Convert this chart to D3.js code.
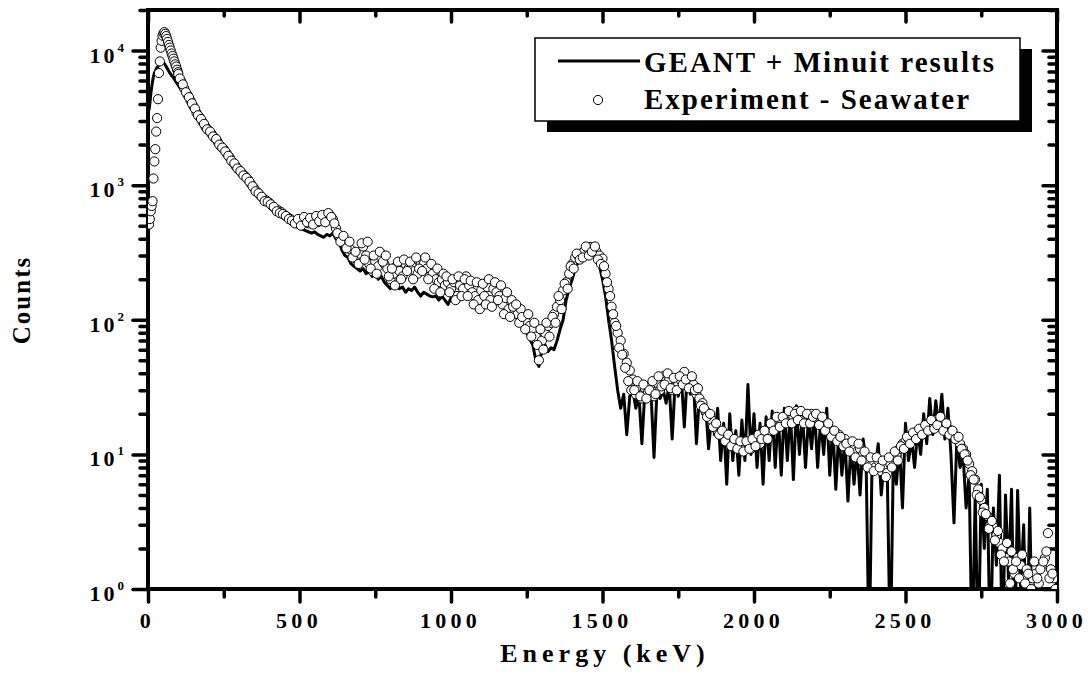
<!DOCTYPE html>
<html lang="en">
<head>
<meta charset="utf-8">
<title>GEANT + Minuit vs seawater spectrum</title>
<script src="https://cdn.jsdelivr.net/npm/d3@7"></script>
<style>
  body { margin: 0; background: #fff; }
  svg text { font-family: "Liberation Serif", "Times New Roman", serif; font-weight: bold; fill: #000; }
  .tick line { stroke: #000; stroke-width: 3.5; stroke-linecap: round; }
</style>
</head>
<body>
<div id="chart"></div>
<script>

// ------ data --------
// first channels (keV), finer spacing around the low energy peak
var lowEnergy = [3,6,9,12,15,18,21,24,27,30,33,36,39,42,45,48,51,54,57,60,63,66,69,72,75,78,81,84,87,90,93,96,99];
var expLow = [510,560,640,700,760,1120,1500,1850,2500,3150,4350,6800,8300,10500,11800,12900,13400,13700,13300,12800,
  12200,11600,11000,10500,10000,9500,9100,8700,8300,7900,7600,7200,6900];
var simLow = [3600,4000,4700,5300,5900,6400,6800,7000,7300,7500,7600,7800,7900,8000,8100,8200,8100,8000,7800,7600,
  7400,7200,7000,6800,6700,6500,6400,6300,6100,6000,5800,5700,5600];

// experiment - seawater, 100 .. 2990 keV every 10 keV
var expEnergy = d3.range(100, 3000, 10);
var expCounts = [
  6700,5900,5200,4700,4250,3850,3450,3200,2950,2700,
  2550,2400,2250,2100,1950,1850,1720,1600,1480,1380,
  1300,1230,1170,1100,1020,950,890,840,800,770,
  740,700,670,650,630,600,580,560,540,530,
  540,520,560,520,540,560,530,570,550,580,
  600,560,480,420,400,370,360,330,300,280,
  310,350,300,260,230,270,250,290,260,240,
  200,220,250,230,210,260,240,250,230,220,
  270,260,240,210,220,200,190,200,180,190,
  170,190,150,180,170,210,180,160,150,140,
  165,150,175,140,170,160,150,130,145,120,
  140,115,110,120,100,95,90,84,75,50,
  70,80,90,95,110,125,140,165,190,220,
  260,290,300,310,325,340,345,330,320,300,
  285,220,170,125,95,80,70,56,48,42,
  36,28,32,26,31,29,33,27,34,30,
  38,35,36,30,36,33,35,41,34,36,
  33,28,26,24,21,19,18,16,15,14.5,
  13.5,13,12.5,12,12,11,11.5,11,12,11,
  12.5,13,12,13.5,14,15,16,17,18,17,
  19,18,20,19,21,19,20,18,19,20,
  18,19,17,18,16,15,14,13.5,14,12.5,
  13,12,11.5,11,10.5,11,10,9.5,9,8.5,
  8,9,7.5,8,7.3,8.5,9.6,10,11,12,
  12.5,13,13.5,14,14.5,15,15.5,16,16.5,17,
  18,17,16.5,16,15.5,15,14,13,12,11,
  10,8.5,7.5,6.5,5.5,4.6,4,3.5,3,2.9,
  2.5,2.2,2,1.7,1.6,1.9,1.3,1.7,1.5,1.2,
  1.4,1.1,1.2,1.3,1.1,1.5,1.7,2.6,1.4,1.2
];
// in-between channels, 105 .. 2995 keV every 10 keV
var expEnergyB = d3.range(105, 3000, 10);
var expCountsB = [
  6200,5600,4900,4500,4050,3700,3300,3100,2850,2600,
  2500,2300,2200,2000,1900,1780,1650,1520,1450,1330,
  1270,1180,1130,1060,980,900,870,820,760,750,
  720,690,640,620,610,590,560,545,520,560,
  500,580,530,570,510,590,540,600,530,620,
  580,520,440,380,420,340,380,290,320,260,
  370,280,380,240,300,220,320,270,300,210,
  240,180,270,200,280,230,270,200,290,240,
  230,290,200,260,170,240,160,220,210,160,
  200,140,210,150,200,150,195,130,190,120,
  185,130,200,125,190,140,180,110,160,105,
  125,130,95,105,85,110,75,95,65,85,
  60,95,75,105,95,150,120,185,170,250,
  240,310,280,290,350,300,320,350,280,260,
  250,190,150,110,90,62,55,44,35,30,
  30,35,27,33,26,30,35,28,38,32,
  33,40,31,37,30,38,33,36,31,38,
  30,31,23,22,19,20,16,17,14,15,
  12.5,14,11.5,13,11,12.5,10.5,12.5,11,13,
  11.5,14,13,15,13,17,15,19,16,19,
  17,21,17,20,18,21,17,20,17,19,
  20,16.5,19,15,17,13.5,15,12.5,13.5,11.5,
  12,10.5,12.5,9.5,12,9,10.5,8,9.5,7.5,
  9.5,8,9,6.8,9.5,8,10.5,9,11.5,11,
  13.5,12,14.5,13,15.5,14,16.5,15,18,15.5,
  16.5,19,15,17,14,15,13,13.5,11,10,
  9,7,6.5,5,4.8,3.7,3.6,2.8,3.2,2.3,
  2.7,1.8,1.6,2.2,1.1,1.4,1.6,1.2,1.8,1.1,
  1.3,1.0,1.6,1.2,1.4,1.6,1.9,1.2,1.3,1.0
];

// GEANT + Minuit fit, 100 .. 2920 keV every 10 keV (0 = empty channel)
var simEnergy = d3.range(100, 2930, 10);
var simCounts = [
  5500,5100,4800,4500,4200,3800,3450,3150,2900,2650,
  2500,2350,2200,2050,1900,1800,1680,1560,1450,1350,
  1270,1200,1130,1060,990,920,860,800,760,720,
  690,660,630,600,580,560,540,520,500,490,
  480,470,460,450,440,450,430,420,410,430,
  420,440,400,380,330,300,290,260,250,240,
  230,240,220,230,210,220,200,210,190,180,
  170,190,180,170,175,160,170,165,175,160,
  150,160,155,150,148,150,140,150,140,130,
  145,140,150,145,155,160,150,145,140,130,
  135,140,150,140,145,140,150,130,120,115,
  110,110,100,95,85,80,72,65,50,45,
  60,65,58,62,60,70,85,100,140,170,
  200,240,270,300,330,350,370,340,310,250,
  200,150,100,70,45,30,22,28,14,27,
  30,22,28,12,30,25,29,9.5,31,26,
  30,24,33,13,35,27,38,16,40,28,
  36,12,28,20,24,11,19,14,22,9,
  17,6,20,9,15,7,18,9,33,10,
  20,8,17,6,19,9,21,8,20,7,
  22,9,21,6.5,23,10,20,8,19,11,
  21,8,18,10,22,7,16,5.5,15,7,
  13,4.5,12,6,11,5,13,9,0,10,
  8,12,5,9,7,0,10,6,12,4,
  17,9,13,8,15,10,20,12,26,14,
  25,16,28,13,22,10,3.1,14,8,10,
  4,7,0,5,0,6,2,5.5,0,4,
  1.5,7,0,5,1.2,5.5,0,5.4,1,3,
  0,4,0
];

var xTicks = [0,500,1000,1500,2000,2500,3000];
var xMinorTicks = [250,750,1250,1750,2250,2750];
var yTicks = [1,10,100,1000,10000];
var yTickExponents = ["0","1","2","3","4"];
var legendLabels = ["GEANT + Minuit results", "Experiment - Seawater"];
// -----------------------------

var width = 1088, height = 677;
var pLeft = 148, pRight = 1057, pTop = 10, pBottom = 589;

var x = d3.scaleLinear().domain([0, 3000]).range([pLeft, pRight]);
var y = d3.scaleLog().domain([1, 20000]).range([pBottom, pTop]);

var yMinor = [];
yTicks.forEach(function(t){
  for (var k = 2; k <= 9; k++) yMinor.push(t * k);
});

function pairs(es, cs){ return es.map(function(e,i){ return {e:e, c:cs[i]}; }); }
var expData = pairs(lowEnergy, expLow).concat(pairs(expEnergy, expCounts), pairs(expEnergyB, expCountsB));
var simData = pairs(lowEnergy, simLow).concat(pairs(simEnergy, simCounts));

var svg = d3.select("#chart").append("svg")
  .attr("width", width).attr("height", height);

svg.append("defs").append("clipPath").attr("id", "plotclip")
  .append("rect").attr("x", pLeft).attr("y", pTop)
  .attr("width", pRight - pLeft).attr("height", pBottom - pTop);

// axes
function minorAxis(axis, g){
  g.call(axis).select(".domain").remove();
  g.selectAll("text").remove();
}
var gBottom = svg.append("g").attr("transform", "translate(0," + pBottom + ")");
gBottom.call(d3.axisBottom(x).tickValues(xTicks).tickSize(13).tickSizeOuter(0)
  .tickPadding(10).tickFormat(d3.format("d")));
gBottom.select(".domain").remove();
gBottom.selectAll("text").attr("font-size", 22).attr("letter-spacing", 4.3).attr("dx", -1);
minorAxis(d3.axisBottom(x).tickValues(xMinorTicks).tickSize(8), svg.append("g").attr("transform", "translate(0," + pBottom + ")"));

minorAxis(d3.axisBottom(x).tickValues(xTicks).tickSize(12), svg.append("g").attr("transform", "translate(0," + pTop + ")"));
minorAxis(d3.axisBottom(x).tickValues(xMinorTicks).tickSize(6), svg.append("g").attr("transform", "translate(0," + pTop + ")"));

var gLeft = svg.append("g").attr("transform", "translate(" + pLeft + ",0)");
gLeft.call(d3.axisLeft(y).tickValues(yTicks).tickSize(15).tickSizeOuter(0).tickFormat(""));
gLeft.select(".domain").remove();
gLeft.selectAll(".tick text").remove();
minorAxis(d3.axisLeft(y).tickValues(yMinor).tickSize(8), svg.append("g").attr("transform", "translate(" + pLeft + ",0)"));

minorAxis(d3.axisLeft(y).tickValues(yTicks).tickSize(14), svg.append("g").attr("transform", "translate(" + pRight + ",0)"));
minorAxis(d3.axisLeft(y).tickValues(yMinor).tickSize(8), svg.append("g").attr("transform", "translate(" + pRight + ",0)"));

// y labels 10^n
var yLab = svg.append("g").selectAll("text").data(yTicks).enter().append("text")
  .attr("x", 124).attr("y", function(d){ return y(d) + 12; })
  .attr("text-anchor", "end").attr("font-size", 22);
yLab.append("tspan").attr("letter-spacing", 3).text("10");
yLab.append("tspan").attr("font-size", 13).attr("dy", -11)
  .text(function(d,i){ return yTickExponents[i]; });

// frame
svg.append("rect").attr("x", pLeft).attr("y", pTop)
  .attr("width", pRight - pLeft).attr("height", pBottom - pTop)
  .attr("fill", "none").attr("stroke", "#000").attr("stroke-width", 4);

// data
var plot = svg.append("g").attr("clip-path", "url(#plotclip)");
var line = d3.line()
  .x(function(d){ return x(d.e); })
  .y(function(d){ return y(Math.max(d.c, 0.3)); });
plot.append("path").datum(simData)
  .attr("d", line).attr("fill", "none")
  .attr("stroke", "#000").attr("stroke-width", 3).attr("stroke-linejoin", "round");

plot.selectAll("circle").data(expData).enter().append("circle")
  .attr("cx", function(d){ return x(d.e); })
  .attr("cy", function(d){ return y(d.c); })
  .attr("r", 4.6).attr("fill", "#fff").attr("stroke", "#000").attr("stroke-width", 1);

// axis titles
svg.append("text").attr("x", 605).attr("y", 662).attr("text-anchor", "middle")
  .attr("font-size", 26).attr("letter-spacing", 5).text("Energy (keV)");
svg.append("text").attr("transform", "translate(30,300) rotate(-90)")
  .attr("text-anchor", "middle").attr("font-size", 25).attr("letter-spacing", 2).text("Counts");

// legend
var lg = svg.append("g");
lg.append("rect").attr("x", 547).attr("y", 49).attr("width", 485).attr("height", 83).attr("fill", "#000");
lg.append("rect").attr("x", 535).attr("y", 38).attr("width", 485).attr("height", 83)
  .attr("fill", "#fff").attr("stroke", "#000").attr("stroke-width", 1.5);
lg.append("line").attr("x1", 558).attr("x2", 640).attr("y1", 61).attr("y2", 61)
  .attr("stroke", "#000").attr("stroke-width", 3);
lg.append("circle").attr("cx", 598).attr("cy", 100).attr("r", 4.6)
  .attr("fill", "#fff").attr("stroke", "#000").attr("stroke-width", 1);
lg.selectAll("text.lab").data(legendLabels).enter().append("text")
  .attr("class", "lab").attr("x", 644).attr("y", function(d,i){ return 72 + i * 37; })
  .attr("font-size", 29).attr("letter-spacing", 2).text(function(d){ return d; });

</script>
</body>
</html>
